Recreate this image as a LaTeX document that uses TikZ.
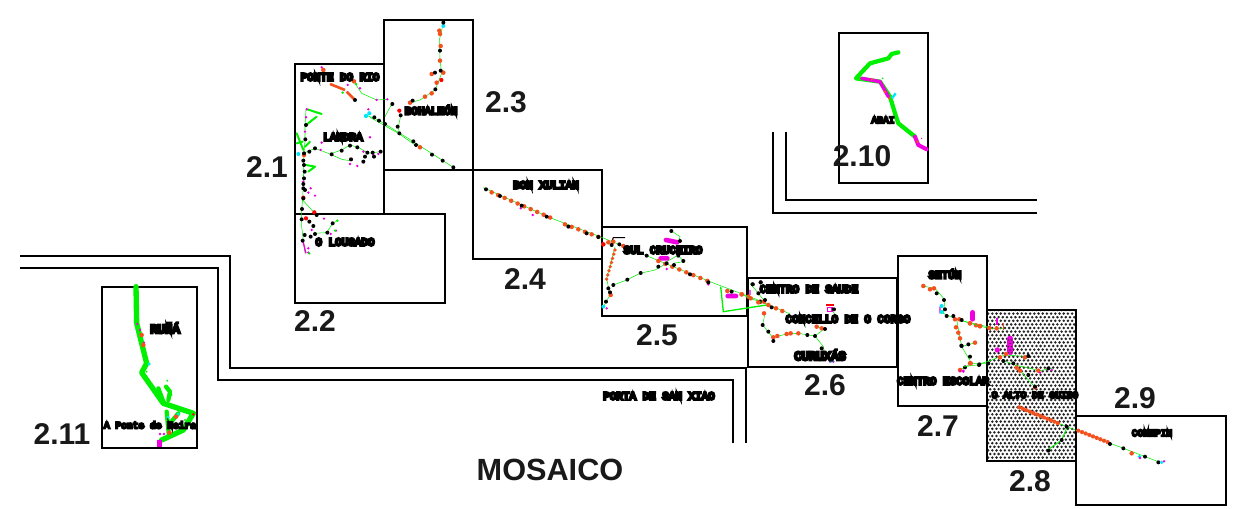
\documentclass[tikz,border=0pt]{standalone}
\usepackage{fontspec}
\setmainfont{Liberation Sans}
\newfontfamily\blobfont[FakeBold=22]{Liberation Mono}
\definecolor{rorange}{HTML}{F4511E}
\definecolor{rlime}{HTML}{00F000}
\definecolor{rmag}{HTML}{F000E0}
\definecolor{rcyan}{HTML}{00E8F8}
\tikzset{
 bigtitle/.style={font=\bfseries\fontsize{22.5}{24}\selectfont,inner sep=0pt,text=black!90},
 mosaictitle/.style={font=\bfseries\fontsize{23}{24}\selectfont,inner sep=0pt,text=black!90},
 place/.style={font=\blobfont\fontsize{8.2}{9}\selectfont,inner sep=0pt,text=black},
 smallplace/.style={place,font=\blobfont\fontsize{7.2}{8}\selectfont},
 wideplace/.style={place,font=\blobfont\fontsize{9.2}{10}\selectfont},
 sheet/.style={draw=black,line width=1.1pt},
 guide/.style={draw=black,line width=0.8pt},
 thin route/.style={draw=rlime,line width=0.4pt},
 thick route/.style={draw=rlime,line width=1.5pt,line cap=round,line join=round},
 fat route/.style={draw=rlime,line width=3.2pt,line cap=round,line join=round},
 fatter route/.style={draw=rlime,line width=4pt,line cap=round,line join=round},
 fat mag/.style={draw=rmag,line width=3pt,line cap=round,line join=round},
 zoomA/.style={shift={(280,10)},x=0.25pt,y=-0.25pt},
 zoomB/.style={shift={(470,165)},x=0.25pt,y=-0.25pt},
 zoomC/.style={shift={(740,250)},x=0.25pt,y=-0.25pt},
 zoomD/.style={shift={(960,300)},x=0.25pt,y=-0.25pt},
 zoomE/.style={shift={(90,280)},x=0.25pt,y=-0.25pt},
 zoomF/.style={shift={(830,30)},x=0.25pt,y=-0.25pt},
}
\newcommand\rdots[3]{\foreach \p in {#3}{\fill[#1] \p circle[radius=#2];}}
\newcommand\bkd[1]{\rdots{black}{1.5pt}{#1}}
\newcommand\ord[1]{\rdots{rorange}{1.7pt}{#1}}
\newcommand\mgd[1]{\rdots{rmag}{1pt}{#1}}
\begin{document}
\begin{tikzpicture}[x=0.75pt,y=-0.75pt]
\useasboundingbox (0,0) rectangle (1236,509);
\fill[white] (0,0) rectangle (1236,509);
% dotted sheet 2.8
\begin{scope}
\clip (987,310) rectangle (1076,461);
\foreach \r in {0,...,43}{
  \pgfmathsetmacro\ox{mod(\r,2)*2.1}
  \foreach \c in {0,...,21}{
    \fill[black!85] ({986+\c*4.2+\ox},{310+\r*3.6}) circle[radius=1.05pt];
  }
}
\end{scope}
% guide lines
\draw[guide] (20,256) -- (230,256) -- (230,368) -- (746,368) -- (746,443);
\draw[guide] (20,268) -- (218,268) -- (218,380) -- (733,380) -- (733,443);
\draw[guide] (773,132) -- (773,213) -- (1037,213);
\draw[guide] (786,132) -- (786,200) -- (1037,200);
% sheets
\draw[sheet] (295,214) rectangle (445,303);
\draw[sheet] (384,20) rectangle (473,170);
\draw[sheet] (295,64) rectangle (384,214);
\draw[sheet] (384,170) -- (473,170);
\draw[sheet] (473,170) rectangle (602,259);
\draw[sheet] (602,227) rectangle (747,316);
\draw[sheet] (748,278) rectangle (897,367);
\draw[sheet] (898,256) rectangle (987,406);
\draw[sheet] (987,310) rectangle (1076,461);
\draw[sheet] (1076,416) rectangle (1226,505);
\draw[sheet] (839,33) rectangle (928,183);
\draw[sheet] (102,287) rectangle (197,448);
% 2.1 2.2 2.3
\begin{scope}[zoomA]
\draw[thin route] (225,220) -- (245,250) -- (290,270) -- (325,268);
\draw[thin route] (258,316) -- (285,325) -- (315,342) -- (400,395) -- (520,472);
\draw[thin route] (270,322) -- (355,370) -- (405,405);
\draw[thin route] (335,282) -- (315,320);
\draw[thin route] (362,318) -- (355,350) -- (358,372);
\draw[thin route] (490,40) -- (478,90) -- (480,150) -- (485,190) -- (465,240) -- (420,270) -- (390,278);
\draw[thin route] (70,430) -- (105,415) -- (150,432) -- (185,420) -- (210,405) -- (235,412) -- (265,430) -- (300,425);
\draw[thin route] (150,432) -- (185,448) -- (210,452);
\draw[thin route] (78,300) -- (75,345) -- (75,390) -- (72,430) -- (70,520) -- (68,565) -- (65,600) -- (65,650) -- (70,690) -- (75,730);
\draw[thin route] (68,570) -- (100,605);
\draw[thin route] (100,670) -- (140,668) -- (158,640) -- (172,632);
\draw[thick route] (82,298) -- (125,312) (110,320) -- (78,345);
\draw[thick route] (50,370) -- (70,420) (50,400) -- (68,395) (75,410) -- (90,395);
\draw[thick route] (78,465) -- (105,470) -- (85,485);
\draw[draw=rorange,line width=2pt] (150,222) -- (195,240) (200,245) -- (225,270);
\draw[draw=rmag,line width=1pt] (68,690) -- (78,730);
\mgd{(125,172),(203,225),(240,235),(290,270),(322,268),(265,298),(75,365),(125,398),(270,382),(122,420),(215,450),(232,468),(210,462),(280,435),(295,432),(250,425),(70,515),(92,535),(105,557),(85,548),(132,626),(95,660),(85,715),(85,728),(168,662),(152,672),(78,322),(80,298)}
\rdots{rlime}{1pt}{(188,248),(228,222),(172,632),(165,662),(88,730)}
\rdots{rcyan}{1.6pt}{(268,310),(258,318)}
\rdots{rcyan}{1.5pt}{(490,48),(55,432)}
\ord{(130,180),(222,214),(480,72),(482,108),(480,152),(490,188),(455,192),(470,218),(455,250),(435,260),(390,278),(420,412),(478,62)}
\rdots{red}{1.6pt}{(484,210),(358,302),(70,563),(103,607),(78,625)}
\ord{(72,435)}
\bkd{(490,38),(480,122),(482,182),(465,188),(466,238),(398,272),(337,282),(362,316),(353,350),(358,370),(400,394),(408,405),(456,434),(488,452),(520,472),(225,270),(283,322),(297,332),(315,342),(105,415),(155,433),(185,422),(210,407),(232,412),(262,428),(278,428),(302,425),(250,455),(255,440),(282,440),(213,448)}
\bkd{(76,388),(78,345),(72,430),(88,425),(70,452),(72,465),(74,485),(72,505),(70,522),(70,535),(75,540),(70,565),(66,597),(65,628),(88,635),(100,648),(105,672),(92,680),(74,675),(158,640),(142,668),(68,692),(110,615)}
\end{scope}
% 2.4 2.5
\begin{scope}[zoomB]
\draw[thin route] (40,68) -- (240,158) -- (390,215) -- (720,350) -- (890,415);
\draw[line width=0.8pt] (425,230) -- (430,218) -- (465,218);
\draw[thin route] (435,245) -- (410,340) -- (420,390) -- (400,425);
\draw[thin route] (430,360) -- (470,345) -- (510,325) -- (555,315) -- (590,295);
\draw[thin route] (590,290) -- (625,270) -- (640,290) -- (610,295);
\draw[thin route] (605,198) -- (630,215) -- (625,235);
\draw[draw=rlime,line width=1pt] (752,365) -- (760,440) -- (890,420);
\draw[line width=3.5pt,line cap=round,rmag] (588,225) -- (622,232) (572,280) -- (592,280) (773,393) -- (798,393);
\mgd{(152,130),(188,150),(590,312),(715,358),(410,430)}
\foreach \t in {0,1,...,9}{\fill[rorange] ({65+\t*19.5},{82+\t*8.4}) circle[radius=1.7pt];}
\foreach \t in {0,1,...,5}{\fill[rorange] ({285+\t*20},{178+\t*7.5}) circle[radius=1.7pt];}
\foreach \t in {0,1,...,7}{\fill[rorange] ({565+\t*21},{288+\t*8.5}) circle[radius=1.7pt];}
\foreach \t in {0,1,...,7}{\fill[rorange] ({435-\t*3.6},{255+\t*12.5}) circle[radius=1.4pt];}
\ord{(400,238),(415,232),(430,230),(460,243),(422,390),(772,378),(815,388),(835,395),(872,410)}
\rdots{red}{1.5pt}{(400,238)}
\bkd{(48,73),(90,93),(155,122),(230,155),(295,185),(350,205),(385,216),(425,240),(448,238),(530,272),(565,305),(590,295),(612,300),(660,328),(715,352),(785,380),(430,360),(472,344),(512,324),(604,198),(630,228),(625,272),(640,288),(415,370),(420,382),(408,410),(848,358),(872,352),(870,410)}
\rdots{rcyan}{1.5pt}{(400,425)}
\end{scope}
% 2.6 2.7
\begin{scope}[zoomC]
\draw[thin route] (0,130) -- (30,145) -- (75,160) -- (135,185) -- (150,192);
\draw[thin route] (30,100) -- (55,130) -- (75,155);
\draw[thin route] (75,190) -- (68,225) -- (100,265) -- (100,275);
\draw[thin route] (100,262) -- (140,252) -- (175,250) -- (225,258) -- (255,235) -- (225,230);
\draw[thin route] (225,258) -- (250,290) -- (255,315);
\draw[thin route] (275,180) -- (290,200);
\draw[thin route] (548,108) -- (585,115) -- (615,150) -- (610,190) -- (650,208) -- (690,218) -- (750,232);
\draw[thin route] (650,208) -- (660,265) -- (665,290) -- (705,278);
\draw[thin route] (665,290) -- (695,340) -- (745,340);
\draw[thin route] (660,360) -- (695,340);
\draw[rmag,line width=1pt] (262,172) rectangle (276,184);
\draw[red,line width=1pt] (258,165) -- (283,165);
\draw[line width=3.5pt,line cap=round,rmag] (698,187) -- (698,208);
\draw[rmag,line width=1pt] (30,120) -- (30,135) (55,125) -- (58,135) (600,170) -- (600,190);
\mgd{(670,365),(280,335),(270,335)}
\rdots{rcyan}{1.5pt}{(605,168),(605,186),(275,332)}
\ord{(5,133),(32,145),(55,157),(72,155),(85,165),(108,175),(127,183),(230,230),(245,235),(100,262),(112,258),(140,252),(152,250),(175,250),(550,108),(570,118),(582,115),(645,208),(658,208),(690,220),(708,226),(720,229),(648,232),(655,248),(660,265),(705,278),(692,340),(660,360),(72,190)}
\bkd{(62,97),(38,103),(55,130),(75,150),(95,172),(68,225),(85,245),(100,273),(202,255),(225,258),(245,295),(282,178),(590,130),(612,150),(615,178),(620,198),(640,198),(665,288),(685,283),(675,352),(717,345),(745,340),(255,237)}
\end{scope}
% 2.8 2.9
\begin{scope}[zoomD]
\draw[thin route] (0,60) -- (30,70) -- (85,85) -- (130,85);
\draw[thin route] (10,200) -- (50,195) -- (95,180) -- (135,165) -- (205,170);
\draw[thin route] (125,180) -- (165,195) -- (240,212) -- (275,205);
\draw[thin route] (165,195) -- (225,262);
\draw[thin route] (175,320) -- (320,380) -- (600,487);
\draw[draw=rlime,line width=.7pt] (320,385) -- (305,420) -- (260,452);
\draw[draw=rmag,line width=1.5pt] (112,55) -- (112,75);
\draw[rmag,line width=4pt,line cap=round] (150,115) -- (150,157);
\fill[rmag] (112,150) circle[radius=2pt];
\rdots{black!80}{.6pt}{(145,120),(155,120),(150,130),(145,140),(155,140),(150,150),(145,158),(155,158)}
\draw[rorange,line width=1pt] (130,68) -- (130,90);
\foreach \t in {0,1,...,11}{\fill[rorange] ({178+\t*10.5},{322+\t*4.3}) circle[radius=1.6pt];}
\foreach \t in {0,1,...,8}{\fill[rorange] ({355+\t*11},{392+\t*4.3}) circle[radius=1.6pt];}
\ord{(30,70),(60,78),(88,84),(110,85),(30,190),(120,172),(138,162),(195,172),(170,203),(180,212),(235,212),(225,262),(515,460)}
\bkd{(5,60),(4,137),(30,170),(58,193),(130,183),(160,190),(205,168),(205,225),(265,205),(225,260),(320,380),(450,432),(490,445),(555,470),(595,487),(265,452),(305,420)}
\rdots{rcyan}{1.4pt}{(538,470),(605,487)}
\mgd{(540,474),(612,484),(240,218),(275,210),(10,212),(0,214)}
\end{scope}
% 2.11
\begin{scope}[zoomE]
\draw[fatter route] (138,20) -- (140,130) -- (170,250) -- (155,278) -- (220,370) -- (310,400) -- (280,450) -- (215,480);
\draw[fat route] (205,325) -- (222,370) (228,320) -- (240,335) -- (235,360);
\draw[fat route] (230,395) -- (237,470) (265,400) -- (240,430);
\draw[line width=3.5pt,rmag] (208,480) -- (208,502);
\mgd{(142,132),(150,150),(162,188),(210,462),(222,462)}
\ord{(155,165),(160,195),(258,410),(238,458)}
\rdots{rcyan}{1.2pt}{(178,252),(234,412),(265,402)}
\rdots{rlime}{.8pt}{(170,275),(232,302),(245,345),(285,420)}
\rdots{red}{1pt}{(310,403)}
\end{scope}
% 2.10
\begin{scope}[zoomF]
\draw[fat route] (205,67) -- (185,72) -- (175,85) -- (120,100) -- (78,145) -- (150,155) -- (180,200) -- (195,250) -- (205,280) -- (255,320);
\draw[fat mag] (255,320) -- (265,345) -- (290,358);
\draw[rmag,line width=2.6pt,line cap=round,line join=round] (95,145) -- (150,155) -- (175,200);
\foreach \p in {(125,148),(165,185),(178,205),(262,335)}{\fill[rorange] \p circle[radius=1pt];}
\draw[rcyan,line width=1.8pt] (197,190) -- (186,205);
\rdots{rmag}{.5pt}{(275,325)}
\rdots{rlime}{.7pt}{(158,145)}
\end{scope}
% numbers
\node[bigtitle] (n21) at (267,167) {2.1};
\node[bigtitle] (n22) at (315,321) {2.2};
\node[bigtitle] (n23) at (506,102) {2.3};
\node[bigtitle] (n24) at (525,279) {2.4};
\node[bigtitle] (n25) at (657,335) {2.5};
\node[bigtitle] (n26) at (825,385) {2.6};
\node[bigtitle] (n27) at (938,426) {2.7};
\node[bigtitle] (n28) at (1030,481) {2.8};
\node[bigtitle] (n29) at (1135,398) {2.9};
\node[bigtitle] (n210) at (862,156) {2.10};
\node[bigtitle] (n211) at (62,434) {2.11};
\node[mosaictitle] (mosaic) at (550,470) {MOSAICO};
% place names
\node[place] (p1) at (340,77) {PONTE DO RIO};
\node[place] (p2) at (431,110) {BOHALEÓN};
\node[place] (p3) at (343,137) {LANDRA};
\node[place] (p4) at (345,242) {O LOUSADO};
\node[place] (p5) at (546,185) {BON XULIAN};
\node[place] (p6) at (663,250) {SUL CRUCEIRO};
\node[place] (p7) at (809,289) {CENTRO DE SAUDE};
\node[place] (p8) at (848,319) {CONCELLO DE O CORGO};
\node[wideplace] (p9) at (820,355) {CURUXÁS};
\node[place] (p10) at (945,274) {SETÚN};
\node[place] (p11) at (943,381) {CENTRO ESCOLAR};
\node[smallplace] (p12) at (1035,395) {O ALTO DE GUISO};
\node[smallplace] (p13) at (1152,433) {COMEPIN};
\node[place] (p14) at (659,396) {PORTA DE SAN XIAO};
\node[wideplace] (p15) at (165,328) {RUÑÁ};
\node[smallplace] (p16) at (150,425) {A Ponte de Neira};
\node[smallplace] (p17) at (883,120) {ABAI};
\end{tikzpicture}
\end{document}
